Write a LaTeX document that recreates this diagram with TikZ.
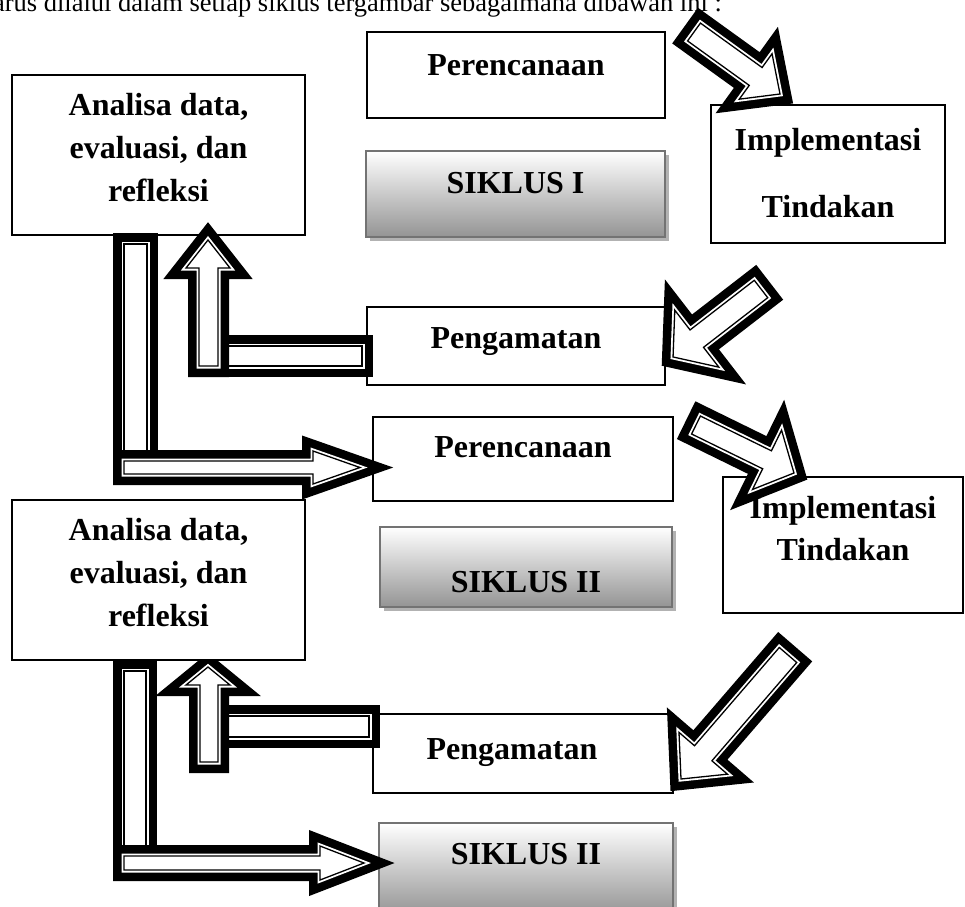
\documentclass[tikz,border=0pt]{standalone}
\usepackage{fontspec}
\setmainfont{Liberation Serif}
\usetikzlibrary{shadows}

\tikzset{
  box/.style={draw=black, line width=1.4pt, fill=white, inner sep=0pt, outer sep=0pt},
  siklus/.style={draw=black!55, line width=1.6pt, top color=white, bottom color=black!42,
    inner sep=0pt, general shadow={fill=black!30, shadow xshift=4pt, shadow yshift=-4pt}},
  lbl/.style={anchor=base, inner sep=0pt, font=\bfseries\fontsize{32}{36}\selectfont},
  fatline/.style={preaction={draw=black, line width=22pt, line join=miter},
    preaction={draw=white, line width=5pt, line join=miter},
    fill=white, draw=black, line width=1.3pt, line join=miter}
}

% block arrow: tail x, tail y, tip x, tip y, shaft half, head half, head length
\newcommand{\blockarrow}[7]{%
  \pgfmathsetmacro{\barrowang}{atan2(-(#4-#2),#3-#1)}
  \pgfmathsetmacro{\barrowlen}{veclen(#3-#1,#4-#2)}
  \begin{scope}[shift={(#1,#2)}, rotate=\barrowang]
    \draw[fatline] (0,#5) -- ({\barrowlen-#7},#5) -- ({\barrowlen-#7},#6) -- (\barrowlen,0)
      -- ({\barrowlen-#7},-#6) -- ({\barrowlen-#7},-#5) -- (0,-#5) -- cycle;
  \end{scope}}

\begin{document}
\begin{tikzpicture}[x=1pt, y=-1pt]
    \useasboundingbox (0,0) rectangle (965,906);
    \clip (0,0) rectangle (965,906);

    % intro line, cut at the top
    \node[anchor=base east, inner sep=0pt, font=\fontsize{26.5}{30}\selectfont] (intro) at (722,11)
      {harus dilalui dalam setiap siklus tergambar sebagaimana dibawah ini :};

    % cycle I
    \node[box, minimum width=298pt, minimum height=86pt] (per1) at (516,75) {};
    \node[lbl] (per1t) at (516,75) {Perencanaan};

    \node[box, minimum width=234pt, minimum height=138pt] (impl1) at (828,174) {};
    \node[lbl] (impl1a) at (828,150) {Implementasi};
    \node[lbl] (impl1b) at (828,217) {Tindakan};

    \node[box, minimum width=293pt, minimum height=160pt] (ana1) at (158.5,155) {};
    \node[lbl] (ana1a) at (158.5,115) {Analisa data,};
    \node[lbl] (ana1b) at (158.5,158) {evaluasi, dan};
    \node[lbl] (ana1c) at (158.5,201) {refleksi};

    \node[siklus, minimum width=299pt, minimum height=86pt] (sik1) at (515.5,194) {};
    \node[lbl] (sik1t) at (515.5,193) {SIKLUS I};

    \node[box, minimum width=298pt, minimum height=78pt] (pen1) at (516,346) {};
    \node[lbl] (pen1t) at (516,348) {Pengamatan};

    % cycle II
    \node[box, minimum width=300pt, minimum height=84pt] (per2) at (523,459) {};
    \node[lbl] (per2t) at (523,457) {Perencanaan};

    \node[box, minimum width=240pt, minimum height=136pt] (impl2) at (843,545) {};
    \node[lbl] (impl2a) at (843,518) {Implementasi};
    \node[lbl] (impl2b) at (843,560) {Tindakan};

    \node[siklus, minimum width=292pt, minimum height=80pt] (sik2) at (526,567) {};
    \node[lbl] (sik2t) at (526,592) {SIKLUS II};

    \node[box, minimum width=300pt, minimum height=79pt] (pen2) at (523,753.5) {};
    \node[lbl] (pen2t) at (512,759) {Pengamatan};

    \node[siklus, minimum width=294pt, minimum height=92pt] (sik3) at (526,869) {};
    \node[lbl] (sik3t) at (526,864) {SIKLUS II};

    % diagonal arrows
    \blockarrow{694}{32}{780}{94}{11}{28}{30}
    \blockarrow{761}{289}{673}{357}{11}{36}{30}
    \blockarrow{696}{425}{794}{473}{10}{33}{30}
    \blockarrow{788}{655}{681}{779}{11.5}{32}{34}

    % pengamatan back to analisa
    \draw[fatline] (215,346) rectangle (362,366);
    \draw[fatline] (199,366) -- (199,268) -- (186,268) -- (208,240) -- (230,268) -- (218,268) -- (218,366) -- cycle;
    \draw[fatline] (215,716) rectangle (369,737);
    \draw[fatline] (200,762) -- (200,685) -- (186,685) -- (208,667) -- (230,685) -- (218,685) -- (218,762) -- cycle;

    % analisa on to the next cycle
    \draw[fatline] (124,244) rectangle (147,463);
    \draw[fatline] (124,461) -- (313,461) -- (313,451) -- (360,467.5) -- (313,484) -- (313,474) -- (124,474) -- cycle;
    \draw[fatline] (124,671) rectangle (146,858);
    \draw[fatline] (124,856) -- (320,856) -- (320,846) -- (364,863) -- (320,880) -- (320,870) -- (124,870) -- cycle;

    \node[box, minimum width=293pt, minimum height=160pt] (ana2) at (158.5,580) {};
    \node[lbl] (ana2a) at (158.5,540) {Analisa data,};
    \node[lbl] (ana2b) at (158.5,583) {evaluasi, dan};
    \node[lbl] (ana2c) at (158.5,626) {refleksi};

\end{tikzpicture}
\end{document}
